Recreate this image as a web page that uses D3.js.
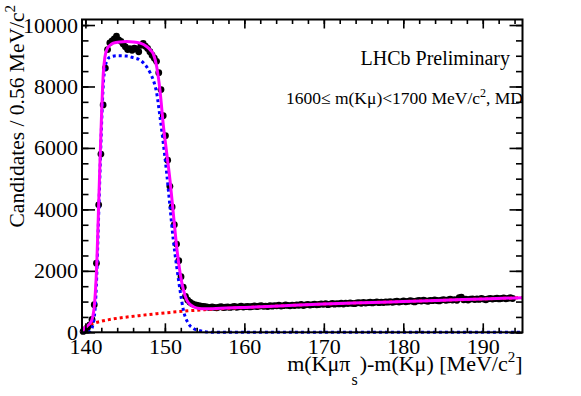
<!DOCTYPE html>
<html>
<head>
<meta charset="utf-8">
<script src="https://cdn.jsdelivr.net/npm/d3@7/dist/d3.min.js"></script>
<style>
  body { margin: 0; background: #fff; }
  svg { display: block; }
  text { font-family: "Liberation Serif", "Times New Roman", serif; fill: #000; }
</style>
</head>
<body>
<svg id="chart" width="581" height="396"></svg>
<script>
// histogram binning (Delta m starts at the pion mass)
var xMin = 139.57, xMax = 195.0, binWidth = 0.28;

// candidates per bin
var counts = [
  30, 90, 160, 240, 420, 900, 2250, 4150, 5800, 7400,
  8600, 9200, 9420, 9480, 9550, 9640, 9520, 9470, 9380, 9290,
  9200, 9230, 9180, 9250, 9220, 9130, 9340, 9400, 9310, 9240,
  9130, 9020, 8920, 8820, 8450, 7900, 7050, 6400, 5600, 4750,
  4080, 3500, 2870, 2330, 1810, 1470, 1170, 1050, 980, 930,
  900, 880, 865, 855, 845, 835,
  820, 805, 830, 810, 795, 820, 835, 805, 815, 830,
  810, 825, 840, 815, 830, 850, 820, 835, 845, 825,
  840, 860, 835, 850, 870, 845, 855, 840, 865, 850,
  870, 860, 880, 855, 865, 890, 875, 860, 885, 870,
  890, 880, 905, 870, 895, 910, 885, 900, 920, 895,
  905, 925, 910, 930, 900, 920, 940, 915, 935, 925,
  945, 920, 950, 935, 960, 940, 930, 955, 965, 945,
  970, 950, 965, 980, 955, 975, 990, 965, 985, 970,
  990, 980, 1000, 975, 995, 1010, 985, 1000, 1020, 995,
  1005, 1030, 1010, 990, 1020, 1035, 1015, 1050, 1025, 1010,
  1040, 1030, 1055, 1035, 1020, 1050, 1065, 1040, 1055, 1075,
  1050, 1065, 1040, 1130, 1140, 1060, 1075, 1050, 1080, 1090,
  1065, 1085, 1070, 1100, 1080, 1060, 1090, 1105, 1080, 1095,
  1110, 1085, 1100, 1120, 1090, 1105, 1125, 1100
];

// fit components [x, value]
var totalFit = [
  [139.57, 0], [139.8, 110], [140.2, 200], [140.6, 300], [140.9, 480], [141.1, 800],
  [141.25, 1300], [141.42, 2150], [141.62, 3760], [141.84, 5600], [142.05, 7230],
  [142.25, 8430], [142.45, 8950], [142.68, 9190], [143.1, 9340], [143.5, 9410],
  [144.3, 9450], [145.2, 9460], [146.0, 9450], [146.9, 9410], [147.7, 9300],
  [148.2, 9180], [148.54, 9060], [148.97, 8640], [149.38, 7880], [149.8, 6750],
  [150.23, 5830], [150.64, 4960], [151.06, 3870], [151.48, 2790], [151.92, 1920],
  [152.33, 1380], [152.76, 1050], [153.2, 900], [153.6, 830], [154.3, 775],
  [155, 765], [157, 780], [160, 810], [165, 865], [170, 918], [175, 962],
  [180, 1002], [185, 1042], [190, 1085], [195, 1125]
];
var signalFit = [
  [139.57, 0], [140.3, 5], [140.7, 60], [140.95, 250], [141.1, 480], [141.21, 740],
  [141.42, 1810], [141.62, 3430], [141.84, 5260], [142.05, 6880], [142.25, 8070],
  [142.45, 8600], [142.68, 8820], [143.1, 8960], [144.0, 9000], [145.2, 8990],
  [146.0, 8940], [146.87, 8860], [147.71, 8640], [148.2, 8420], [148.54, 8210],
  [148.97, 7780], [149.38, 7020], [149.8, 6150], [150.23, 5170], [150.64, 4090],
  [151.06, 3000], [151.49, 2130], [151.9, 1380], [152.32, 730], [152.95, 290],
  [153.58, 130], [154.42, 50], [155.05, 15], [156, 0], [195, 0]
];
var bkgFit = [
  [139.57, 0], [139.75, 100], [140.0, 170], [140.5, 240], [141.0, 290], [142.0, 360],
  [143.5, 435], [145, 490], [147, 550], [149, 605], [151, 655], [153, 700],
  [155, 735], [157, 768], [160, 805], [165, 865], [170, 918], [175, 962],
  [180, 1002], [185, 1042], [190, 1085], [195, 1125]
];

var xMajorTicks = [140, 150, 160, 170, 180, 190];
var yMajorTicks = [0, 2000, 4000, 6000, 8000, 10000];

var svg = d3.select("#chart");
var padL = 82, padR = 522.5, padT = 19.5, padB = 332.3;

var x = d3.scaleLinear().domain([xMin, xMax]).range([padL, padR]);
var y = d3.scaleLinear().domain([0, 10180]).range([padB, padT]);

var xMinor = d3.range(140, 195.01, 2);
var yMinor = d3.range(0, 10001, 500);

function styleAxis(g) {
  g.select(".domain").remove();
  g.selectAll("line").attr("stroke", "#000").attr("stroke-width", 1.6);
  g.selectAll("text")
    .attr("font-family", "Liberation Serif, Times New Roman, serif")
    .attr("font-size", 22)
    .attr("fill", "#000");
}

// data markers
svg.append("g")
  .selectAll("circle")
  .data(counts)
  .enter()
  .append("circle")
  .attr("cx", function(d, i) { return x(xMin + binWidth * (i + 0.5)); })
  .attr("cy", function(d) { return y(d); })
  .attr("r", 3.4)
  .attr("fill", "#000");

var line = d3.line()
  .x(function(d) { return x(d[0]); })
  .y(function(d) { return y(d[1]); })
  .curve(d3.curveMonotoneX);

svg.append("path").datum(bkgFit)
  .attr("d", line).attr("fill", "none")
  .attr("stroke", "#ff0000").attr("stroke-width", 3)
  .attr("stroke-dasharray", "3,3");

svg.append("path").datum(signalFit)
  .attr("d", line).attr("fill", "none")
  .attr("stroke", "#0000ff").attr("stroke-width", 3)
  .attr("stroke-dasharray", "3,3");

svg.append("path").datum(totalFit)
  .attr("d", line).attr("fill", "none")
  .attr("stroke", "#ff00ff").attr("stroke-width", 3);

// axes: ticks pointing inwards on all four sides
svg.append("g").attr("transform", "translate(0," + padB + ")")
  .call(d3.axisBottom(x).tickValues(xMinor).tickFormat("").tickSize(-4.5))
  .call(styleAxis);
svg.append("g").attr("transform", "translate(0," + padB + ")")
  .call(d3.axisBottom(x).tickValues(xMajorTicks).tickFormat(d3.format("d")).tickSize(-9).tickPadding(6))
  .call(styleAxis);
svg.append("g").attr("transform", "translate(0," + padT + ")")
  .call(d3.axisTop(x).tickValues(xMinor).tickFormat("").tickSize(-4.5))
  .call(styleAxis);
svg.append("g").attr("transform", "translate(0," + padT + ")")
  .call(d3.axisTop(x).tickValues(xMajorTicks).tickFormat("").tickSize(-9))
  .call(styleAxis);

svg.append("g").attr("transform", "translate(" + padL + ",0)")
  .call(d3.axisLeft(y).tickValues(yMinor).tickFormat("").tickSize(-6.5))
  .call(styleAxis);
svg.append("g").attr("transform", "translate(" + padL + ",0)")
  .call(d3.axisLeft(y).tickValues(yMajorTicks).tickFormat(d3.format("d")).tickSize(-13).tickPadding(4))
  .call(styleAxis);
svg.append("g").attr("transform", "translate(" + padR + ",0)")
  .call(d3.axisRight(y).tickValues(yMinor).tickFormat("").tickSize(-6.5))
  .call(styleAxis);
svg.append("g").attr("transform", "translate(" + padR + ",0)")
  .call(d3.axisRight(y).tickValues(yMajorTicks).tickFormat("").tickSize(-13))
  .call(styleAxis);

// frame
svg.append("rect")
  .attr("x", padL).attr("y", padT)
  .attr("width", padR - padL).attr("height", padB - padT)
  .attr("fill", "none").attr("stroke", "#000").attr("stroke-width", 2);

// axis titles
var xt = svg.append("text")
  .attr("x", padR).attr("y", 371)
  .attr("text-anchor", "end").attr("font-size", 22);
xt.append("tspan").text("m(K\u03bc\u03c0");
xt.append("tspan").attr("font-size", 16).attr("dy", 14).attr("dx", 1).text("s");
xt.append("tspan").attr("dy", -14).attr("dx", 2).text(")-m(K\u03bc) [MeV/c");
xt.append("tspan").attr("font-size", 15).attr("dy", -9).text("2");
xt.append("tspan").attr("dy", 9).text("]");

var yt = svg.append("text")
  .attr("transform", "translate(24,5) rotate(-90)")
  .attr("text-anchor", "end").attr("font-size", 21.5);
yt.append("tspan").text("Candidates / 0.56 MeV/c");
yt.append("tspan").attr("font-size", 15).attr("dy", -9).text("2");

// labels
svg.append("text")
  .attr("x", 510).attr("y", 65)
  .attr("text-anchor", "end").attr("font-size", 20)
  .text("LHCb Preliminary");

var sel = svg.append("text")
  .attr("x", 523).attr("y", 104)
  .attr("text-anchor", "end").attr("font-size", 17.5);
sel.append("tspan").text("1600\u2264 m(K\u03bc)<1700 MeV/c");
sel.append("tspan").attr("font-size", 12).attr("dy", -7).text("2");
sel.append("tspan").attr("dy", 7).text(", MD");
</script>
</body>
</html>
